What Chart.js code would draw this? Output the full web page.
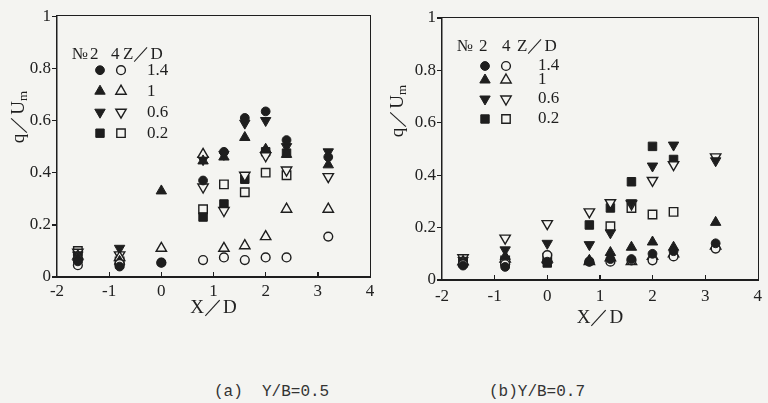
<!DOCTYPE html>
<html>
<head>
<meta charset="utf-8">
<script src="https://cdn.jsdelivr.net/npm/chart.js@4.4.1/dist/chart.umd.min.js"></script>
<style>
  body{margin:0;background:#f4f4f1;width:768px;height:403px;overflow:hidden;position:relative}
  #graficaA{position:absolute;left:0;top:0}
  #graficaB{position:absolute;left:390px;top:0}
  .cap{position:absolute;top:383px;font:16px "Liberation Mono",monospace;color:#333;white-space:pre}
  .marco{position:absolute;box-sizing:border-box;border:1.5px solid #1e1e1e;pointer-events:none}
  .tick{position:absolute;background:#1e1e1e;pointer-events:none}
</style>
</head>
<body>
<canvas id="graficaA" width="390" height="320"></canvas>
<canvas id="graficaB" width="378" height="330"></canvas>
<div class="cap" style="left:214px">(a)  Y/B=0.5</div>
<div class="cap" style="left:489px">(b)Y/B=0.7</div>
<script>
// x positions of the measuring stations (X/D)
const xPos = [-1.6, -0.8, 0, 0.8, 1.2, 1.6, 2, 2.4, 3.2];
const zLabels = ["1.4", "1", "0.6", "0.2"];
const shapes = ["circle", "up", "down", "square"];
const xTicks = [-1, 0, 1, 2, 3];
const yTicks = [0, 0.2, 0.4, 0.6, 0.8, 1];

// (a) Y/B = 0.5   No.2 = filled, No.4 = open
const a_no2_z14 = [0.06, 0.04, 0.055, 0.37, 0.48, 0.61, 0.635, 0.525, 0.46];
const a_no4_z14 = [0.045, 0.05, 0.055, 0.065, 0.075, 0.065, 0.075, 0.075, 0.155];
const a_no2_z1  = [0.075, 0.06, 0.33, 0.445, 0.46, 0.535, 0.49, 0.47, 0.43];
const a_no4_z1  = [0.08, 0.075, 0.11, 0.47, 0.11, 0.12, 0.155, 0.26, 0.26];
const a_no2_z06 = [0.085, 0.11, null, 0.45, 0.47, 0.59, 0.60, 0.50, 0.48];
const a_no4_z06 = [0.095, 0.085, null, 0.345, 0.255, 0.39, 0.465, 0.41, 0.385];
const a_no2_z02 = [0.07, 0.05, null, 0.23, 0.28, 0.375, 0.48, 0.475, null];
const a_no4_z02 = [0.10, 0.06, null, 0.26, 0.355, 0.325, 0.40, 0.39, null];

// (b) Y/B = 0.7
const b_no2_z14 = [0.055, 0.05, 0.07, 0.07, 0.08, 0.08, 0.10, 0.11, 0.14];
const b_no4_z14 = [0.06, 0.06, 0.095, 0.07, 0.07, 0.075, 0.075, 0.09, 0.12];
const b_no2_z1  = [0.065, 0.09, 0.075, 0.075, 0.105, 0.125, 0.145, 0.125, 0.22];
const b_no4_z1  = [0.07, 0.08, 0.08, 0.07, 0.085, 0.07, 0.09, 0.10, 0.13];
const b_no2_z06 = [0.075, 0.115, 0.14, 0.135, 0.18, 0.295, 0.435, 0.515, 0.455];
const b_no4_z06 = [0.085, 0.16, 0.215, 0.26, 0.295, 0.29, 0.38, 0.44, 0.47];
const b_no2_z02 = [0.065, 0.07, 0.065, 0.21, 0.275, 0.375, 0.51, 0.46, null];
const b_no4_z02 = [0.07, 0.075, 0.085, null, 0.205, 0.275, 0.25, 0.26, null];

const INK = "#1e1e1e";
const PAPER = "#f4f4f1";
const SERIF = "'Liberation Serif', 'DejaVu Serif', serif";

function pts(ys){
  return xPos.map((x,i) => ({x: x, y: ys[i]})).filter(p => p.y !== null);
}

function markStyle(shape){
  if(shape === "circle") return {pointStyle: "circle", pointRadius: 4.4, pointRotation: 0};
  if(shape === "up") return {pointStyle: "triangle", pointRadius: 6, pointRotation: 0};
  if(shape === "down") return {pointStyle: "triangle", pointRadius: 6, pointRotation: 180};
  return {pointStyle: "rect", pointRadius: 6, pointRotation: 0};
}

function serie(ys, shape, filled){
  return Object.assign({
    data: pts(ys),
    backgroundColor: filled ? INK : PAPER,
    borderColor: INK,
    borderWidth: filled ? 1 : 1.4,
    showLine: false
  }, markStyle(shape));
}

// hand drawn marker for the legend block
function drawMark(ctx, shape, filled, x, y){
  ctx.beginPath();
  if(shape === "circle"){
    ctx.arc(x, y, 4.4, 0, Math.PI*2);
  } else if(shape === "square"){
    ctx.rect(x-4.2, y-4.2, 8.4, 8.4);
  } else {
    const r = 6, s = shape === "up" ? 1 : -1;
    for(let k=0;k<3;k++){
      const ang = k*2*Math.PI/3;
      const px = x + Math.sin(ang)*r, py = y - s*Math.cos(ang)*r;
      k === 0 ? ctx.moveTo(px, py) : ctx.lineTo(px, py);
    }
    ctx.closePath();
  }
  ctx.fillStyle = filled ? INK : PAPER;
  ctx.fill();
  ctx.lineWidth = filled ? 1 : 1.4;
  ctx.strokeStyle = INK;
  ctx.stroke();
}

const decoracion = {
  id: "decoracion",
  afterDraw(chart, args, o){
    const ctx = chart.ctx, area = chart.chartArea;
    ctx.save();
    // legend block
    ctx.fillStyle = INK;
    ctx.font = "17px " + SERIF;
    ctx.textBaseline = "middle";
    ctx.textAlign = "left";
    const L = o.leg;
    ctx.fillText("№", area.left + L.no, area.top + L.head);
    ctx.fillText("2", area.left + L.two, area.top + L.head);
    ctx.fillText("4", area.left + L.four, area.top + L.head);
    ctx.fillText("Z／D", area.left + L.zd, area.top + L.head);
    zLabels.forEach((lab, i) => {
      const yy = area.top + L.rows[i];
      drawMark(ctx, shapes[i], true, area.left + L.filled, yy);
      drawMark(ctx, shapes[i], false, area.left + L.open, yy);
      ctx.fillStyle = INK;
      ctx.fillText(lab, area.left + L.text, yy);
    });
    // y title q/Um
    ctx.translate(o.yt.x, o.yt.y);
    ctx.rotate(-Math.PI/2);
    ctx.font = "19px " + SERIF;
    const main = "q／U";
    const wq = ctx.measureText(main).width;
    ctx.font = "13px " + SERIF;
    const wm = ctx.measureText("m").width;
    const x0 = -(wq + wm)/2;
    ctx.font = "19px " + SERIF;
    ctx.fillText(main, x0, 0);
    ctx.font = "13px " + SERIF;
    ctx.fillText("m", x0 + wq, 5);
    ctx.restore();
  }
};

// frame and tick marks laid over the canvas, placed from the chart's own scales
function marco(chart, offX){
  const area = chart.chartArea, sx = chart.scales.x, sy = chart.scales.y;
  const f = document.createElement("div");
  f.className = "marco";
  f.style.left = (offX + area.left - 0.75) + "px";
  f.style.top = (area.top - 0.75) + "px";
  f.style.width = (area.right - area.left + 1.5) + "px";
  f.style.height = (area.bottom - area.top + 1.5) + "px";
  document.body.appendChild(f);
  xTicks.forEach(v => {
    const t = document.createElement("div");
    t.className = "tick";
    t.style.left = (offX + sx.getPixelForValue(v) - 0.6) + "px";
    t.style.top = (area.bottom - 5) + "px";
    t.style.width = "1.3px"; t.style.height = "5px";
    document.body.appendChild(t);
  });
  yTicks.forEach(v => {
    const t = document.createElement("div");
    t.className = "tick";
    t.style.left = (offX + area.left - 5) + "px";
    t.style.top = (sy.getPixelForValue(v) - 0.6) + "px";
    t.style.width = "5px"; t.style.height = "1.3px";
    document.body.appendChild(t);
  });
}

function grafica(id, sets, geo){
  const datasets = [];
  sets.forEach((pair, i) => {
    datasets.push(serie(pair[0], shapes[i], true));
    datasets.push(serie(pair[1], shapes[i], false));
  });
  const chart = new Chart(id, {
    type: "scatter",
    data: {datasets: datasets},
    options: {
      responsive: false,
      animation: false,
      events: [],
      layout: {padding: {top: geo.top, right: geo.right, left: 0, bottom: 0}},
      plugins: {
        legend: {display: false},
        tooltip: {enabled: false},
        decoracion: {leg: geo.leg, yt: geo.yt}
      },
      scales: {
        x: {
          type: "linear", min: -2, max: 4,
          afterFit: s => { s.height = geo.xh; },
          border: {display: true, color: INK, width: 1.5},
          grid: {display: false, drawTicks: false},
          ticks: {stepSize: 1, padding: geo.xpad, color: "#222", font: {family: SERIF, size: 17}},
          title: {display: true, text: "X／D", color: "#222", padding: {top: 0, bottom: 1}, font: {family: SERIF, size: 19}}
        },
        y: {
          type: "linear", min: 0, max: 1,
          afterFit: s => { s.width = geo.yw; },
          border: {display: true, color: INK, width: 1.5},
          grid: {display: false, drawTicks: false},
          ticks: {stepSize: 0.2, padding: 6, color: "#222", font: {family: SERIF, size: 17},
                  callback: v => String(Number(v.toFixed(1)))}
        }
      }
    },
    plugins: [decoracion]
  });
  marco(chart, geo.offX);
}

grafica("graficaA",
  [[a_no2_z14, a_no4_z14], [a_no2_z1, a_no4_z1], [a_no2_z06, a_no4_z06], [a_no2_z02, a_no4_z02]],
  {offX: 0, top: 15, right: 20, yw: 57, xh: 43, xpad: 4,
   leg: {no: 15, two: 33, four: 54, zd: 66, head: 38, filled: 43, open: 64, text: 90, rows: [54, 75, 96, 117]},
   yt: {x: 19, y: 117}});

grafica("graficaB",
  [[b_no2_z14, b_no4_z14], [b_no2_z1, b_no4_z1], [b_no2_z06, b_no4_z06], [b_no2_z02, b_no4_z02]],
  {offX: 390, top: 18, right: 3, yw: 52, xh: 50, xpad: 6,
   leg: {no: 15, two: 37, four: 60, zd: 75, head: 29, filled: 43, open: 64, text: 96, rows: [48, 62, 81, 101]},
   yt: {x: 8, y: 111}});
</script>
</body>
</html>
